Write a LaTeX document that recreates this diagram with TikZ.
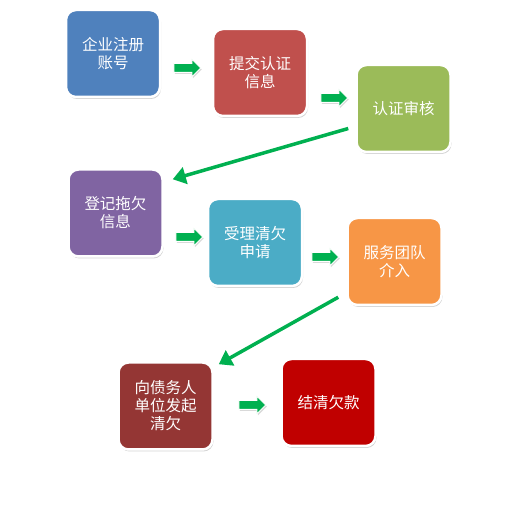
\documentclass[tikz,border=0pt]{standalone}
\usepackage{fontspec}
\newfontfamily\cjk{Noto Sans CJK SC}
\usetikzlibrary{shapes.arrows,shadows,arrows.meta}
\definecolor{cblue}{HTML}{4F81BD}
\definecolor{cred}{HTML}{C0504D}
\definecolor{cgreen}{HTML}{9BBB59}
\definecolor{cpurple}{HTML}{8064A2}
\definecolor{cteal}{HTML}{4BACC6}
\definecolor{corange}{HTML}{F79646}
\definecolor{cbrown}{HTML}{943634}
\definecolor{cdeep}{HTML}{C00000}
\definecolor{carrow}{HTML}{00B050}
\tikzset{
  stepbox/.style={rectangle, rounded corners=10pt, draw=white, line width=2.5pt,
    minimum width=94pt, minimum height=87pt, align=center, text=white,
    font=\cjk\fontsize{15.5}{18}\selectfont,
    drop shadow={shadow xshift=1pt, shadow yshift=-2pt, opacity=0.35}},
  smallarrow/.style={single arrow, fill=carrow, draw=white, line width=1pt,
    minimum height=27pt, single arrow head extend=4.5pt,
    inner xsep=0pt, inner ysep=4pt,
    drop shadow={shadow xshift=1pt, shadow yshift=-1.5pt, opacity=0.3}},
  longarrow/.style={draw=carrow, line width=3.5pt,
    -{Triangle[length=13pt,width=17pt]},
    preaction={draw=white, line width=6pt, -{Triangle[length=15pt,width=21pt]}}}
}
\begin{document}
\begin{tikzpicture}[x=1pt, y=-1pt]
  \useasboundingbox (0,0) rectangle (515,505);

  % boxes
  \node[stepbox, fill=cblue]   (reg)    at (113,53.5)  {企业注册\\账号};
  \node[stepbox, fill=cred]    (submit) at (260,72.5)  {提交认证\\信息};
  \node[stepbox, fill=cgreen]  (audit)  at (403.5,108.5) {认证审核};
  \node[stepbox, fill=cpurple] (record) at (115.5,213) {登记拖欠\\信息};
  \node[stepbox, fill=cteal]   (accept) at (255,242.5) {受理清欠\\申请};
  \node[stepbox, fill=corange] (team)   at (394.5,261.5) {服务团队\\介入};
  \node[stepbox, fill=cbrown]  (debtor) at (165.5,406) {向债务人\\单位发起\\清欠};
  \node[stepbox, fill=cdeep]   (settle) at (328.5,402.5) {结清欠款};

  % small arrows
  \node[smallarrow] (a1) at (185,68) {};
  \node[smallarrow] (a2) at (332,98) {};
  \node[smallarrow] (a3) at (187,237) {};
  \node[smallarrow] (a4) at (323,257) {};
  \node[smallarrow] (a5) at (250,405) {};

  % long arrows
  \coordinate (s1) at ([shift={(-7,20)}]audit.west);
  \coordinate (t1) at ([shift={(9,11)}]record.north east);
  \coordinate (s2) at ([shift={(-8,-9)}]team.south west);
  \coordinate (t2) at ([shift={(5,3)}]debtor.north east);
  \draw[longarrow] (s1) -- (t1);
  \draw[longarrow] (s2) -- (t2);
\end{tikzpicture}
\end{document}
